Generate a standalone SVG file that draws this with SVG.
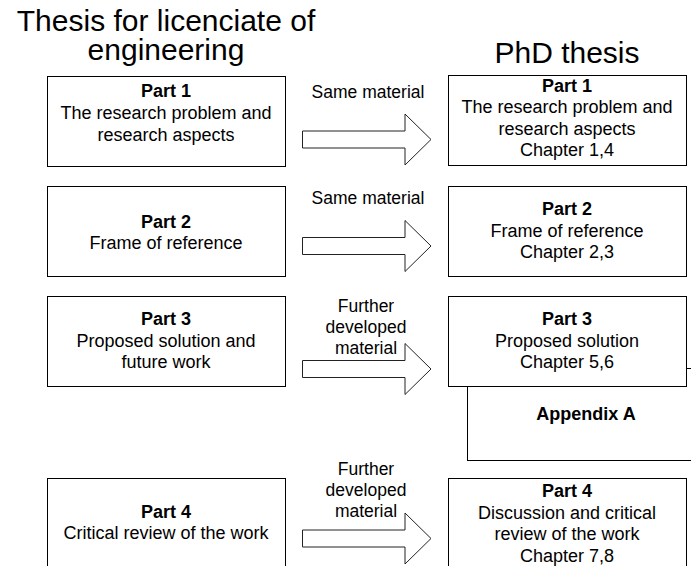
<svg xmlns="http://www.w3.org/2000/svg" xmlns:xlink="http://www.w3.org/1999/xlink" width="691" height="566" viewBox="0 0 691 566">
  <style>
    .box { fill: #fff; stroke: #000; stroke-width: 1; }
    .arrow { fill: #fff; stroke: #222; stroke-width: 1; stroke-linejoin: miter; }
    text { font-family: "Liberation Sans", Arial, sans-serif; fill: #000; text-anchor: middle; }
    .title { font-size: 30px; }
    .t { font-size: 18px; }
    .b { font-size: 18px; font-weight: bold; }
    .lbl { font-size: 17.5px; }
  </style>
  <defs>
    <!-- block arrow, origin at the shaft's left end, vertical centre -->
    <path id="blockArrow" d="M0,-8.5 H102.5 V-25.5 L128.5,0 L102.5,25.5 V8.5 H0 Z"/>
  </defs>
  <rect width="691" height="566" fill="#fff"/>

  <!-- column headings -->
  <g id="heading-left">
    <text class="title" x="166" y="31"><tspan x="166">Thesis for licenciate of</tspan><tspan x="166" dy="28.5">engineering</tspan></text>
  </g>
  <g id="heading-right">
    <text class="title" x="567" y="63">PhD thesis</text>
  </g>

  <!-- transfer arrows between the two theses -->
  <g id="connectors">
    <use xlink:href="#blockArrow" class="arrow" x="302.5" y="139.5"/>
    <use xlink:href="#blockArrow" class="arrow" x="302.5" y="246"/>
    <use xlink:href="#blockArrow" class="arrow" x="302.5" y="369"/>
    <use xlink:href="#blockArrow" class="arrow" x="302.5" y="538.5"/>
    <text class="lbl" x="368" y="98">Same material</text>
    <text class="lbl" x="368" y="203.5">Same material</text>
    <text class="lbl" x="366" y="311.5">Further</text>
    <text class="lbl" x="366" y="333">developed</text>
    <text class="lbl" x="366" y="354">material</text>
    <text class="lbl" x="366" y="475">Further</text>
    <text class="lbl" x="366" y="496">developed</text>
    <text class="lbl" x="366" y="517">material</text>
  </g>

  <!-- licentiate thesis parts -->
  <g id="lic-part1">
    <rect class="box" x="47.5" y="76.5" width="238" height="90"/>
    <text class="b" x="166" y="97">Part 1</text>
    <text class="t" x="166" y="119">The research problem and</text>
    <text class="t" x="166" y="140.5">research aspects</text>
  </g>
  <g id="lic-part2">
    <rect class="box" x="47.5" y="186.5" width="238" height="90"/>
    <text class="b" x="166" y="227.5">Part 2</text>
    <text class="t" x="166" y="248.5">Frame of reference</text>
  </g>
  <g id="lic-part3">
    <rect class="box" x="47.5" y="296.5" width="238" height="90"/>
    <text class="b" x="166" y="325">Part 3</text>
    <text class="t" x="166" y="346.5">Proposed solution and</text>
    <text class="t" x="166" y="367.5">future work</text>
  </g>
  <g id="lic-part4">
    <rect class="box" x="47.5" y="478.5" width="238" height="100"/>
    <text class="b" x="166" y="517.5">Part 4</text>
    <text class="t" x="166" y="539">Critical review of the work</text>
  </g>

  <!-- PhD thesis parts -->
  <g id="phd-appendixA">
    <rect class="box" x="467.5" y="368.5" width="240" height="92"/>
    <text class="b" x="586" y="420">Appendix A</text>
  </g>
  <g id="phd-part1">
    <rect class="box" x="448.5" y="75.5" width="238" height="90"/>
    <text class="b" x="567" y="91.5">Part 1</text>
    <text class="t" x="567" y="113">The research problem and</text>
    <text class="t" x="567" y="134.5">research aspects</text>
    <text class="t" x="567" y="155.5">Chapter 1,4</text>
  </g>
  <g id="phd-part2">
    <rect class="box" x="448.5" y="186.5" width="238" height="90"/>
    <text class="b" x="567" y="215">Part 2</text>
    <text class="t" x="567" y="236.5">Frame of reference</text>
    <text class="t" x="567" y="258">Chapter 2,3</text>
  </g>
  <g id="phd-part3">
    <rect class="box" x="448.5" y="296.5" width="238" height="90"/>
    <text class="b" x="567" y="325">Part 3</text>
    <text class="t" x="567" y="346.5">Proposed solution</text>
    <text class="t" x="567" y="367.5">Chapter 5,6</text>
  </g>
  <g id="phd-part4">
    <rect class="box" x="448.5" y="478.5" width="238" height="100"/>
    <text class="b" x="567" y="497">Part 4</text>
    <text class="t" x="567" y="518.5">Discussion and critical</text>
    <text class="t" x="567" y="539.5">review of the work</text>
    <text class="t" x="567" y="561.5">Chapter 7,8</text>
  </g>
</svg>
